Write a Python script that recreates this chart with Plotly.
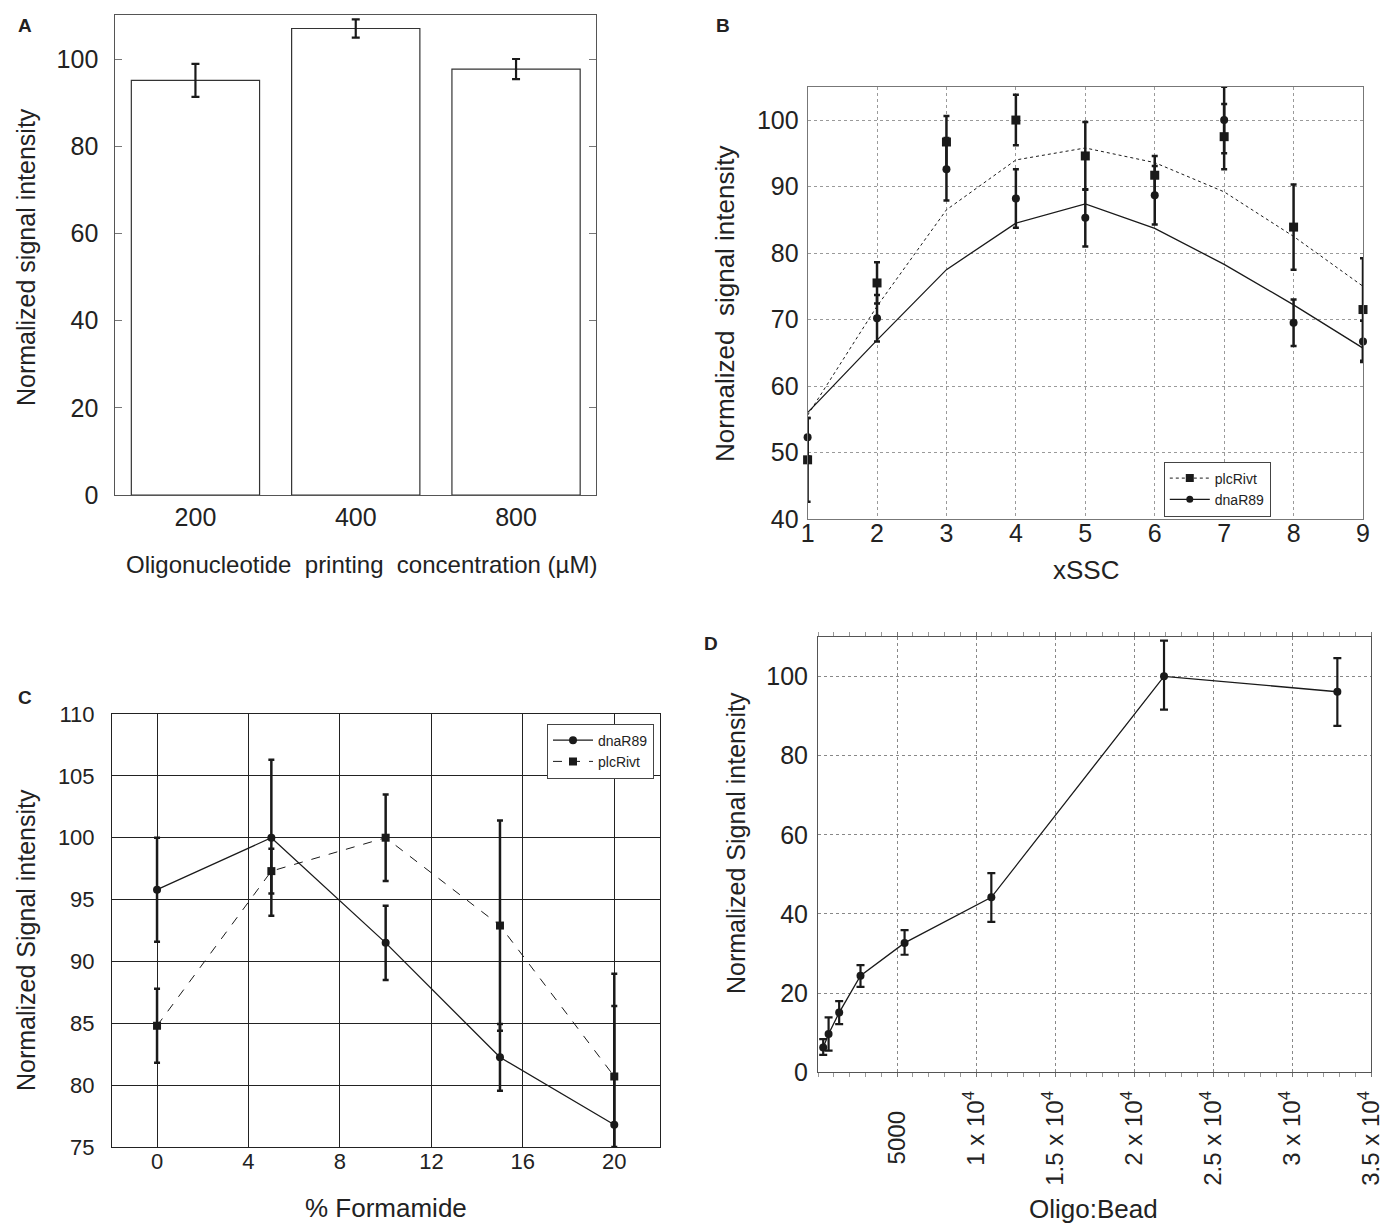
import plotly.graph_objects as go

FONT = "Liberation Sans, Arial, Helvetica, sans-serif"
INK = "#1a1a1a"

# ---------------- Panel A data ----------------
a_categories = ["200", "400", "800"]
a_values = [95.1, 107.0, 97.7]
a_errors = [3.8, 2.1, 2.3]

# ---------------- Panel B data ----------------
b_x = [1, 2, 3, 4, 5, 6, 7, 8, 9]
b_plc_points = [48.9, 75.5, 96.7, 100.0, 94.6, 91.7, 97.5, 83.9, 71.5]
b_plc_err = [6.3, 3.1, 3.9, 3.8, 5.1, 2.9, 4.9, 6.4, 7.7]
b_dna_points = [52.3, 70.2, 92.6, 88.2, 85.3, 88.7, 100.0, 69.5, 66.7]
b_dna_err = [2.9, 3.5, 4.7, 4.4, 4.3, 4.4, 5.0, 3.5, 3.1]
b_plc_fit = [55.6, 72.0, 86.5, 94.0, 95.8, 93.6, 89.2, 82.5, 75.0]
b_dna_fit = [56.0, 66.9, 77.5, 84.5, 87.4, 83.7, 78.3, 72.2, 65.7]

# ---------------- Panel C data ----------------
c_x = [0, 5, 10, 15, 20]
c_dna = [95.8, 100.0, 91.5, 82.25, 76.8]
c_dna_err = [4.2, 6.3, 3.0, 2.7, 12.2]
c_plc = [84.8, 97.3, 100.0, 92.9, 80.7]
c_plc_err = [3.0, 1.8, 3.5, 8.5, 5.7]

# ---------------- Panel D data ----------------
d_x = [330, 670, 1340, 2690, 5480, 10970, 21900, 32870]
d_y = [6.3, 9.7, 15.1, 24.4, 32.7, 44.2, 100.0, 96.1]
d_err_plus = [2.1, 4.2, 2.9, 2.7, 3.2, 6.1, 9.0, 8.5]
d_err_minus = [1.9, 4.2, 2.9, 2.8, 3.0, 6.2, 8.4, 8.6]
d_tickvals = [5000, 10000, 15000, 20000, 25000, 30000, 35000]
d_ticktext = ["5000&nbsp;&nbsp;&nbsp;", "1 x 10<sup>4</sup>", "1.5 x 10<sup>4</sup>",
              "2 x 10<sup>4</sup>", "2.5 x 10<sup>4</sup>", "3 x 10<sup>4</sup>",
              "3.5 x 10<sup>4</sup>"]

W, H = 1382, 1227


def px_x(p):
    return p / W


def px_y(p):
    return 1 - p / H


fig = go.Figure()

# Panel A bars
fig.add_trace(go.Bar(
    x=a_categories, y=a_values, xaxis="x", yaxis="y", width=0.8,
    marker=dict(color="white", line=dict(color="#333", width=1.2)),
    error_y=dict(type="data", array=a_errors, color=INK, thickness=2.2, width=4),
    showlegend=False,
))

# Panel B: fitted lines
fig.add_trace(go.Scatter(x=b_x, y=b_plc_fit, xaxis="x2", yaxis="y2", mode="lines",
                         line=dict(color=INK, width=1, dash="dot"), showlegend=False))
fig.add_trace(go.Scatter(x=b_x, y=b_dna_fit, xaxis="x2", yaxis="y2", mode="lines",
                         line=dict(color=INK, width=1.3), showlegend=False))
# Panel B: points with error bars
fig.add_trace(go.Scatter(x=b_x, y=b_plc_points, xaxis="x2", yaxis="y2", mode="markers",
                         marker=dict(symbol="square", size=9, color=INK),
                         error_y=dict(type="data", array=b_plc_err, color=INK, thickness=2.5, width=3),
                         showlegend=False, cliponaxis=False))
fig.add_trace(go.Scatter(x=b_x, y=b_dna_points, xaxis="x2", yaxis="y2", mode="markers",
                         marker=dict(symbol="circle", size=8, color=INK),
                         error_y=dict(type="data", array=b_dna_err, color=INK, thickness=2.5, width=3),
                         showlegend=False, cliponaxis=False))
# Panel B legend entries
fig.add_trace(go.Scatter(x=[None], y=[None], xaxis="x2", yaxis="y2", mode="lines+markers",
                         name="plcRivt", legend="legend",
                         line=dict(color=INK, width=1, dash="dot"),
                         marker=dict(symbol="square", size=8, color=INK)))
fig.add_trace(go.Scatter(x=[None], y=[None], xaxis="x2", yaxis="y2", mode="lines+markers",
                         name="dnaR89", legend="legend",
                         line=dict(color=INK, width=1.3),
                         marker=dict(symbol="circle", size=7, color=INK)))

# Panel C
fig.add_trace(go.Scatter(x=c_x, y=c_dna, xaxis="x3", yaxis="y3", mode="lines+markers",
                         name="dnaR89", legend="legend2",
                         line=dict(color=INK, width=1.3),
                         marker=dict(symbol="circle", size=8, color=INK),
                         error_y=dict(type="data", array=c_dna_err, color=INK, thickness=2.5, width=3)))
fig.add_trace(go.Scatter(x=c_x, y=c_plc, xaxis="x3", yaxis="y3", mode="lines+markers",
                         name="plcRivt", legend="legend2",
                         line=dict(color=INK, width=1, dash="dash"),
                         marker=dict(symbol="square", size=8, color=INK),
                         error_y=dict(type="data", array=c_plc_err, color=INK, thickness=2.5, width=3)))

# Panel D
fig.add_trace(go.Scatter(x=d_x, y=d_y, xaxis="x4", yaxis="y4", mode="lines+markers",
                         line=dict(color=INK, width=1.3),
                         marker=dict(symbol="circle", size=8, color=INK),
                         error_y=dict(type="data", array=d_err_plus, arrayminus=d_err_minus,
                                      color=INK, thickness=2.2, width=4),
                         showlegend=False))

tickfont = dict(family=FONT, size=25, color="#222")

layout = dict(
    width=W, height=H,
    margin=dict(l=0, r=0, t=0, b=0),
    paper_bgcolor="white", plot_bgcolor="white",
    font=dict(family=FONT, color="#222"),
    bargap=0.2,
    # Panel A axes
    xaxis=dict(domain=[px_x(115.3), px_x(596.2)], anchor="y", type="category",
               range=[-0.5, 2.5], showline=True, linecolor="#555", mirror=True,
               ticks="", tickfont=tickfont, ticklabelstandoff=0, showgrid=False,
               automargin=False),
    yaxis=dict(domain=[px_y(495), px_y(15.4)], anchor="x", range=[0, 110],
               tickvals=[0, 20, 40, 60, 80, 100], showline=True, linecolor="#555",
               mirror="ticks", ticks="inside", ticklen=7, tickcolor="#777",
               tickfont=tickfont, ticklabelstandoff=11, showgrid=False, zeroline=False,
               automargin=False),
    # Panel B axes
    xaxis2=dict(domain=[px_x(807.6), px_x(1363)], anchor="y2", range=[1, 9],
                tickvals=b_x, showline=True, linecolor="#777", mirror=True,
                showgrid=True, gridcolor="#9a9a9a", griddash="dot", gridwidth=1,
                ticks="", tickfont=tickfont, ticklabelstandoff=-8, zeroline=False,
                ticklabeloverflow="allow", automargin=False),
    yaxis2=dict(domain=[px_y(519), px_y(86.8)], anchor="x2", range=[40, 105],
                tickvals=[40, 50, 60, 70, 80, 90, 100], showline=True, linecolor="#777",
                mirror=True, showgrid=True, gridcolor="#9a9a9a", griddash="dot", gridwidth=1,
                ticks="", tickfont=tickfont, ticklabelstandoff=3, zeroline=False,
                automargin=False),
    # Panel C axes
    xaxis3=dict(domain=[px_x(112), px_x(660)], anchor="y3", range=[-1.97, 22.0],
                tickvals=[0, 4, 8, 12, 16, 20], showline=True, linecolor="#222", mirror=True,
                showgrid=True, gridcolor="#222", gridwidth=1, ticks="",
                tickfont=dict(family=FONT, size=22, color="#222"), ticklabelstandoff=-5,
                zeroline=False, automargin=False),
    yaxis3=dict(domain=[px_y(1147), px_y(714)], anchor="x3", range=[75, 110],
                tickvals=[75, 80, 85, 90, 95, 100, 105, 110], showline=True, linecolor="#222",
                mirror=True, showgrid=True, gridcolor="#222", gridwidth=1, ticks="",
                tickfont=dict(family=FONT, size=22, color="#222"), ticklabelstandoff=12,
                zeroline=False, automargin=False),
    # Panel D axes
    xaxis4=dict(domain=[px_x(818), px_x(1371)], anchor="y4", range=[0, 35000],
                tickvals=d_tickvals, ticktext=d_ticktext, tickangle=-90,
                showline=True, linecolor="#555", mirror="ticks",
                showgrid=True, gridcolor="#888", griddash="dot", gridwidth=1,
                ticks="outside", ticklen=4, tickcolor="#777",
                minor=dict(dtick=1000, ticks="outside", ticklen=4, tickcolor="#999",
                           showgrid=False),
                tickfont=dict(family=FONT, size=24, color="#222"), ticklabelstandoff=4,
                ticklabeloverflow="allow", zeroline=False, automargin=False),
    yaxis4=dict(domain=[px_y(1072.4), px_y(636.7)], anchor="x4", range=[0, 110],
                tickvals=[0, 20, 40, 60, 80, 100], showline=True, linecolor="#555",
                mirror=True, showgrid=True, gridcolor="#888", griddash="dot", gridwidth=1,
                ticks="", tickfont=tickfont, ticklabelstandoff=4, zeroline=False,
                automargin=False),
    legend=dict(x=px_x(1163.8), y=px_y(461.5), xanchor="left", yanchor="top",
                bgcolor="white", bordercolor="#444", borderwidth=1,
                font=dict(family=FONT, size=14, color="#222"),
                itemwidth=40, tracegroupgap=0),
    legend2=dict(x=px_x(547), y=px_y(723.6), xanchor="left", yanchor="top",
                 bgcolor="white", bordercolor="#444", borderwidth=1,
                 font=dict(family=FONT, size=14, color="#222"),
                 itemwidth=40, tracegroupgap=0),
)
fig.update_layout(**layout)


def ann(text, x, y, size, angle=0, bold=False):
    t = f"<b>{text}</b>" if bold else text
    fig.add_annotation(text=t, x=px_x(x), y=px_y(y), xref="paper", yref="paper",
                       showarrow=False, textangle=angle, xanchor="center", yanchor="middle",
                       font=dict(family=FONT, size=size, color="#222"))


# Panel letters
ann("A", 25, 25, 19, bold=True)
ann("B", 723, 26, 19, bold=True)
ann("C", 25, 697, 19, bold=True)
ann("D", 711, 643, 19, bold=True)

# Axis titles
ann("Normalized signal intensity", 26, 257, 25, angle=-90)
ann("Oligonucleotide  printing  concentration (µM)", 362, 564, 24)
ann("Normalized  signal intensity", 725, 304, 26, angle=-90)
ann("xSSC", 1086, 570, 26)
ann("Normalized Signal intensity", 26, 940, 25, angle=-90)
ann("% Formamide", 386, 1208, 26)
ann("Normalized Signal intensity", 736, 843, 25, angle=-90)
ann("Oligo:Bead", 1093, 1209, 26)

# The page body's default 8px margin would push the fixed-size figure out of the window
fig.write_html("out.html",
               config={"displayModeBar": False},
               post_script="document.body.style.margin='0';document.body.style.overflow='hidden';")
